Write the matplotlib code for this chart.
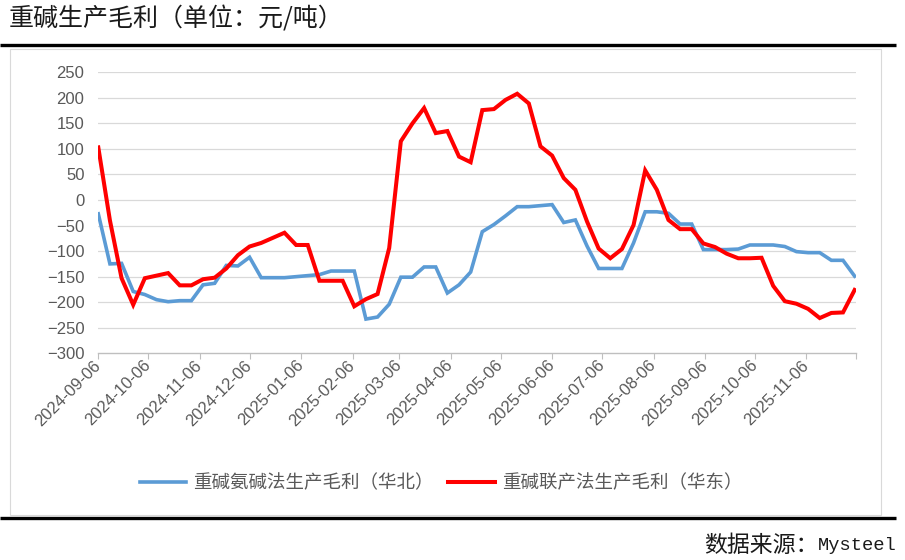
import pandas as pd
import matplotlib
matplotlib.use("Agg")
import matplotlib.pyplot as plt
import matplotlib.transforms as mtransforms
from matplotlib.patches import Rectangle

plt.rcParams["font.family"] = ["Noto Sans CJK SC", "DejaVu Sans"]

# weekly observations, 2024-09-06 .. 2025-12-05
dates = pd.date_range("2024-09-06", periods=66, freq="7D")

north_ammonia = [
    -27, -125, -124, -179, -185, -195, -199, -197, -197, -166,
    -163, -128, -129, -112, -152, -152, -152, -150, -148, -146,
    -139, -139, -139, -233, -229, -204, -151, -151, -131, -131,
    -182, -166, -141, -62, -48, -31, -13, -13, -11, -9,
    -44, -39, -90, -134, -134, -134, -84, -23, -23, -26,
    -47, -47, -97, -97, -97, -96, -88, -88, -88, -91,
    -101, -103, -103, -118, -118, -149,
]
east_joint = [
    103, -40, -153, -205, -153, -148, -143, -167, -167, -155,
    -152, -134, -108, -91, -84, -74, -64, -88, -88, -158,
    -158, -158, -208, -194, -184, -94, 115, 150, 180, 131,
    135, 85, 74, 176, 178, 196, 208, 189, 105, 87,
    43, 20, -42, -95, -114, -96, -49, 58, 20, -39,
    -57, -57, -85, -92, -105, -114, -114, -113, -168, -198,
    -203, -213, -231, -221, -220, -176,
]

tick_dates = [pd.Timestamp("2024-09-06") + pd.DateOffset(months=k) for k in range(16)]
tick_labels = [d.strftime("%Y-%m-%d") for d in tick_dates[:-1]] + [""]
y_ticks = list(range(-300, 251, 50))

title = "重碱生产毛利（单位：元/吨）"
label_north = "重碱氨碱法生产毛利（华北）"
label_east = "重碱联产法生产毛利（华东）"
source_cn = "数据来源："
source_en = "Mysteel"

W, H = 905, 560
fig = plt.figure(figsize=(W / 100, H / 100), dpi=100)

# background layer in pixel coordinates
bg = fig.add_axes([0, 0, 1, 1], zorder=0)
bg.set_xlim(0, W)
bg.set_ylim(H, 0)
bg.axis("off")
bg.add_patch(Rectangle((9.5, 48.5), 871, 466, fill=False, edgecolor="#d9d9d9", lw=0.8))
bg.plot([0, 896], [45, 45], color="black", lw=2.4, solid_capstyle="butt")
bg.plot([0, 896], [518, 518], color="black", lw=2.4, solid_capstyle="butt")
bg.text(9, 19, title, fontsize=18, color="#1a1a1a", va="center", ha="left")
bg.text(897, 545, source_en, fontsize=13.5, color="#1a1a1a", va="center", ha="right",
        family="Liberation Mono")
bg.text(818, 545, source_cn, fontsize=16.5, color="#1a1a1a", va="center", ha="right")

ax = fig.add_axes([98.3 / W, 1 - 353.3 / H, 758 / W, 281 / H], zorder=1)
ax.patch.set_alpha(0)
ax.plot(dates, north_ammonia, color="#5B9BD5", lw=2.6, label=label_north,
        solid_joinstyle="miter")
ax.plot(dates, east_joint, color="#FF0000", lw=2.9, label=label_east,
        solid_joinstyle="miter")

ax.set_xlim(tick_dates[0], tick_dates[-1])
ax.set_ylim(-300, 250)
ax.set_yticks(y_ticks)
ax.set_xticks(tick_dates)
ax.set_xticklabels(tick_labels, rotation=45, ha="right", va="center",
                   rotation_mode="anchor", family="Liberation Sans")
shift = mtransforms.ScaledTranslation(3 / 100, 0, fig.dpi_scale_trans)
for lab in ax.get_xticklabels():
    lab.set_transform(lab.get_transform() + shift)
for lab in ax.get_yticklabels():
    lab.set_family("Liberation Sans")
ax.tick_params(axis="x", direction="out", length=4, width=0.8, color="#bfbfbf",
               labelsize=12, labelcolor="#595959", pad=3)
ax.tick_params(axis="y", length=0, labelsize=12, labelcolor="#595959", pad=10)
for s in ["top", "right", "left"]:
    ax.spines[s].set_visible(False)
ax.spines["bottom"].set_color("#bfbfbf")
ax.spines["bottom"].set_linewidth(1.0)
for v in y_ticks[1:]:
    ax.axhline(v, color="#d9d9d9", lw=0.9, zorder=0)

handles, labels = ax.get_legend_handles_labels()
fig.legend(handles, labels, loc="center", bbox_to_anchor=(441 / W, 1 - 483 / H),
           ncol=2, frameon=False, fontsize=13.3, handlelength=2.5,
           handletextpad=0.4, columnspacing=0.8, labelcolor="#595959")

fig.savefig("out.png", dpi=100)
